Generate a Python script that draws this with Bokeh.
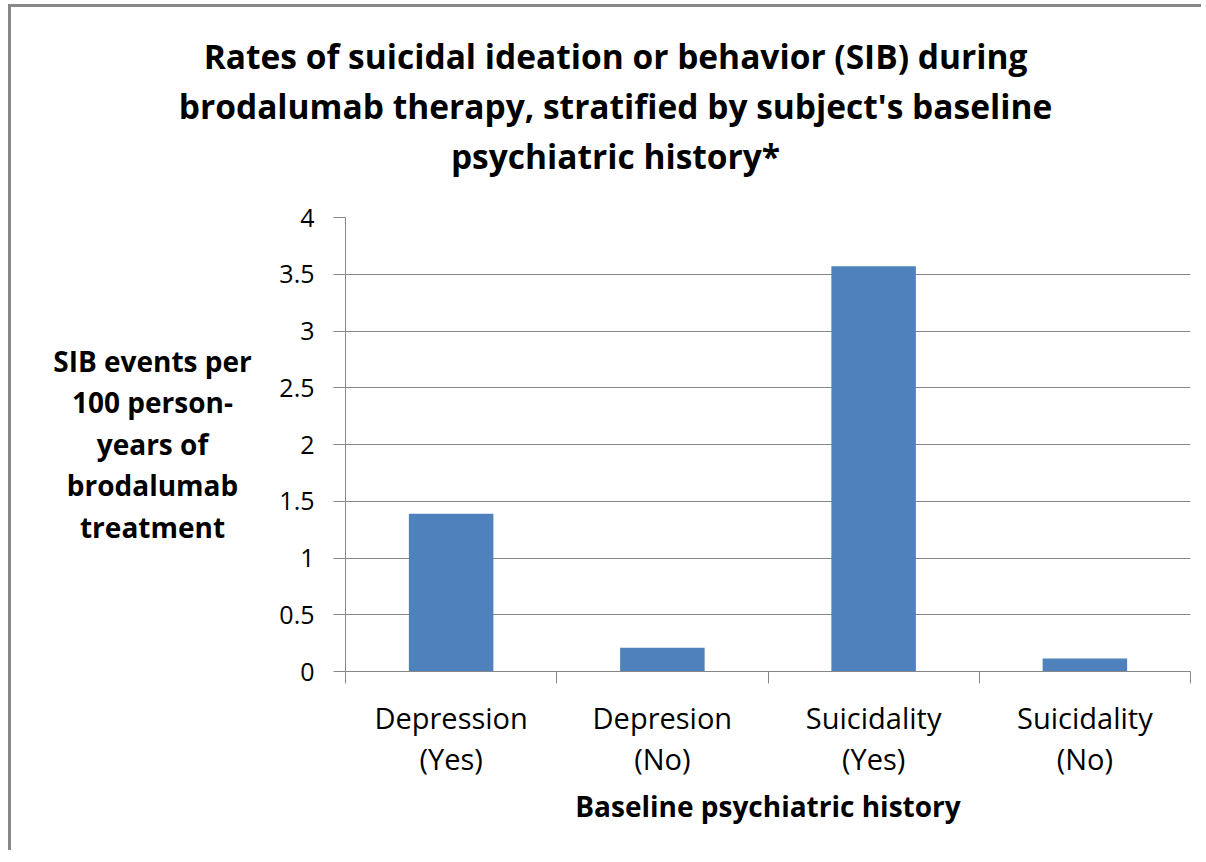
from bokeh.plotting import figure
from bokeh.models import Range1d, FixedTicker
from bokeh.layouts import column, row
from bokeh.core.properties import value
from bokeh.embed import file_html
from bokeh.resources import INLINE

categories = ["Depression\n(Yes)", "Depresion\n(No)", "Suicidality\n(Yes)", "Suicidality\n(No)"]
values = [1.39, 0.21, 3.57, 0.115]
y_ticks = [0, 0.5, 1, 1.5, 2, 2.5, 3, 3.5, 4]
y_tick_labels = ["0", "0.5", "1", "1.5", "2", "2.5", "3", "3.5", "4"]
title_lines = ["Rates of suicidal ideation or behavior (SIB) during",
               "brodalumab therapy, stratified by subject's baseline",
               "psychiatric history*"]
ylabel_lines = ["SIB events per", "100 person-", "years of", "brodalumab", "treatment"]
xlabel = "Baseline psychiatric history"

FONT = "Open Sans"
GRID = "#868686"
BORDER = 3
MARGIN_L, MARGIN_T = 8, 4
OX, OY = MARGIN_L + BORDER, MARGIN_T + BORDER   # content origin in image px

TOTAL_W = 1190
TOP_H = 183
LEFT_W = 252
MAIN_H = 660
FL, FR, FT, FB = 345, 1190, 217, 671   # plot frame edges in image px
MAIN_X0 = OX + LEFT_W
MAIN_Y0 = OY + TOP_H
MAIN_W = TOTAL_W - LEFT_W
TITLE_ADJ, YLAB_ADJ = -12, -39   # measured rendering offsets of the text strips


def text_strip(w, h):
    f = figure(frame_width=w, frame_height=h, output_backend="svg", toolbar_location=None,
               title=None, x_range=Range1d(0, w), y_range=Range1d(h, 0),
               x_axis_location=None, y_axis_location=None,
               min_border=0, min_border_left=0, min_border_right=0,
               min_border_top=0, min_border_bottom=0)
    f.outline_line_color = None
    f.xgrid.visible = False
    f.ygrid.visible = False
    f.background_fill_color = "white"
    f.border_fill_color = "white"
    return f


# ---- title strip
top = text_strip(TOTAL_W, TOP_H)
top.text(x=[615 - OX] * len(title_lines),
         y=[67 - OY + TITLE_ADJ + 50 * j for j in range(len(title_lines))],
         text=title_lines, text_align="center", text_baseline="alphabetic",
         text_font=value(FONT), text_font_size="33.5px", text_font_style="bold",
         text_color="black")

# ---- y-label strip
left = text_strip(LEFT_W, MAIN_H)
left.text(x=[152 - OX] * len(ylabel_lines),
          y=[372 - MAIN_Y0 + YLAB_ADJ + 41.5 * j for j in range(len(ylabel_lines))],
          text=ylabel_lines, text_align="center", text_baseline="alphabetic",
          text_font=value(FONT), text_font_size="28px", text_font_style="bold",
          text_color="black")

# ---- main chart
p = figure(width=MAIN_W, height=MAIN_H, output_backend="svg", toolbar_location=None,
           title=None, x_range=Range1d(0, len(categories)), y_range=Range1d(0, 4),
           min_border_left=FL - MAIN_X0, min_border_right=MAIN_X0 + MAIN_W - FR,
           min_border_top=FT - MAIN_Y0, min_border_bottom=MAIN_Y0 + MAIN_H - FB)
p.outline_line_color = None
p.background_fill_color = "white"
p.border_fill_color = "white"

centers = [i + 0.5 for i in range(len(categories))]
bounds = list(range(len(categories) + 1))
p.vbar(x=centers, top=values, width=0.4, bottom=0, fill_color="#4F81BD", line_color=None)

p.yaxis.ticker = FixedTicker(ticks=y_ticks)
p.yaxis.major_label_overrides = {t: l for t, l in zip(y_ticks, y_tick_labels)}
p.yaxis.major_label_text_font = FONT
p.yaxis.major_label_text_font_size = "25px"
p.yaxis.major_label_text_color = "black"
p.yaxis.major_tick_out = 12
p.yaxis.major_tick_in = 0
p.yaxis.minor_tick_line_color = None
p.yaxis.major_label_standoff = 19
p.yaxis.axis_line_color = GRID
p.yaxis.major_tick_line_color = GRID

p.xaxis.ticker = FixedTicker(ticks=centers, minor_ticks=bounds)
p.xaxis.major_label_overrides = {c: l for c, l in zip(centers, categories)}
p.xaxis.major_label_text_font = FONT
p.xaxis.major_label_text_font_size = "29px"
p.xaxis.major_label_text_color = "black"
p.xaxis.major_label_text_line_height = 1.065
p.xaxis.major_tick_line_color = None
p.xaxis.major_tick_out = 12
p.xaxis.major_tick_in = 0
p.xaxis.major_label_standoff = 14
p.xaxis.minor_tick_line_color = GRID
p.xaxis.minor_tick_out = 12
p.xaxis.minor_tick_in = 0
p.xaxis.axis_line_color = GRID
p.xaxis.axis_label = xlabel
p.xaxis.axis_label_text_font = FONT
p.xaxis.axis_label_text_font_size = "28px"
p.xaxis.axis_label_text_font_style = "bold"
p.xaxis.axis_label_text_color = "black"
p.xaxis.axis_label_standoff = 6

p.xgrid.grid_line_color = None
p.ygrid.grid_line_color = GRID
p.ygrid.grid_line_width = 1

layout = column(top, row(left, p, spacing=0), spacing=0)
layout.styles = {"border-left": f"{BORDER}px solid #888888",
                 "border-top": f"{BORDER}px solid #888888",
                 "margin-left": f"{MARGIN_L}px", "margin-top": f"{MARGIN_T}px"}

open("out.html", "w").write(file_html(layout, INLINE))
